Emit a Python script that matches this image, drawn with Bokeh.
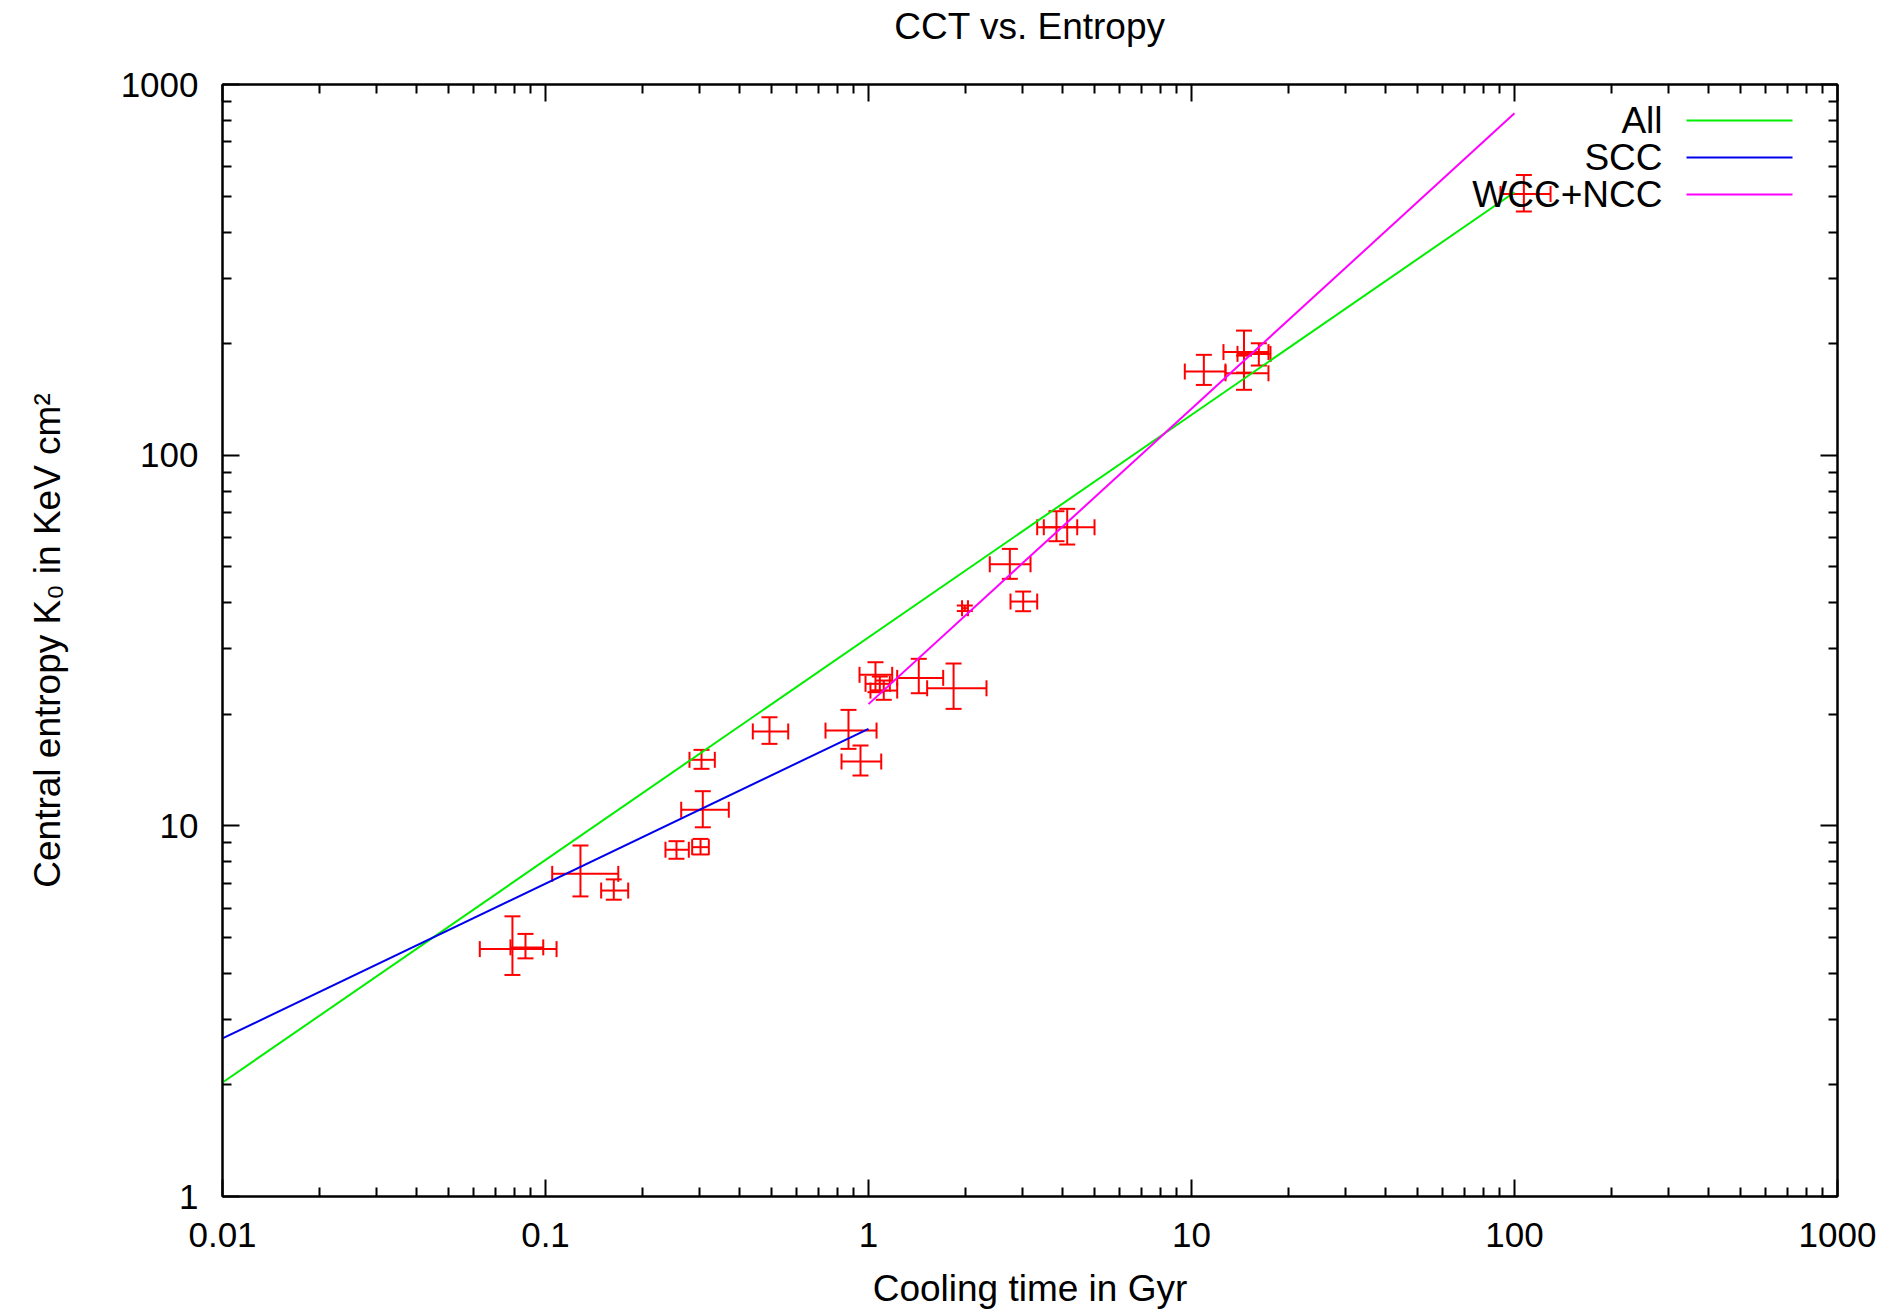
from bokeh.plotting import figure
from bokeh.models import (Range1d, Whisker, ColumnDataSource, FixedTicker,
                          CustomJSTickFormatter, LogAxis, Label, BoxAnnotation, TeeHead)
from bokeh.embed import file_html
from bokeh.resources import INLINE

# ---- data: cooling time (Gyr) and central entropy K0 (keV cm^2) with error-bar ends
t    = [0.0790, 0.0867, 0.1283, 0.1627, 0.2544, 0.302, 0.3069, 0.3041, 0.4937, 0.867,
        0.9445, 1.051, 1.084, 1.115, 1.431, 1.834, 1.987, 2.739, 3.012, 3.819,
        4.123, 10.92, 14.54, 14.54, 16.16, 106.9]
t_lo = [0.0626, 0.0779, 0.1049, 0.1487, 0.2352, 0.2845, 0.2631, 0.2791, 0.4384, 0.736,
        0.825, 0.938, 0.979, 1.014, 1.227, 1.519, 1.948, 2.374, 2.752, 3.329,
        3.489, 9.535, 12.56, 12.74, 13.88, 90.5]
t_hi = [0.1082, 0.0984, 0.1680, 0.1803, 0.2778, 0.3204, 0.3694, 0.3344, 0.5642, 1.059,
        1.095, 1.184, 1.164, 1.227, 1.703, 2.319, 2.032, 3.174, 3.329, 4.428,
        5.009, 12.74, 17.31, 17.31, 17.56, 129.3]
k    = [4.65, 4.70, 7.42, 6.69, 8.62, 8.76, 11.05, 15.07, 17.97, 18.07,
        14.91, 25.55, 24.16, 23.17, 25.07, 23.5, 38.64, 50.77, 40.28, 63.9,
        63.9, 168.1, 189.7, 166.3, 187.6, 506.9]
k_lo = [3.96, 4.39, 6.45, 6.32, 8.15, 8.37, 9.91, 14.25, 16.64, 16.13,
        13.67, 22.94, 23.17, 21.88, 22.79, 20.68, 37.97, 46.38, 37.93, 58.6,
        57.4, 154.7, 167.0, 150.1, 174.5, 454.0]
k_hi = [5.70, 5.11, 8.85, 7.17, 9.09, 9.22, 12.40, 16.03, 19.63, 20.55,
        16.47, 27.63, 25.28, 24.66, 28.22, 27.41, 39.3, 55.87, 42.86, 70.6,
        71.65, 186.5, 216.8, 185.6, 200.4, 570.3]

# fit lines (end points)
fit_names = ["All", "SCC", "WCC+NCC"]
fit_t = [[0.01, 100.0], [0.01, 1.0], [1.0, 100.0]]
fit_k = [[2.03, 512.0], [2.67, 18.27], [21.3, 836.0]]
fit_colors = ["#00ee00", "#0000ee", "#ff00ff"]

x_major = [0.01, 0.1, 1, 10, 100, 1000]
y_major = [1, 10, 100, 1000]

TITLE = "CCT vs. Entropy"
FONT = "Liberation Sans"

def minors(majors):
    out = []
    for m in majors[:-1]:
        out += [m * i for i in range(2, 10)]
    return out

p = figure(width=1900, height=1315, x_axis_type="log", y_axis_type="log",
           x_range=Range1d(0.01, 1000), y_range=Range1d(1, 1000),
           output_backend="svg", toolbar_location=None,
           min_border_left=222, min_border_right=63, min_border_top=84,
           min_border_bottom=119)
p.grid.visible = False
p.outline_line_color = "black"
p.outline_line_width = 2
p.background_fill_color = "white"
p.border_fill_color = "white"

fmt = CustomJSTickFormatter(code="return tick.toString();")

def style_axis(ax, majors, labels=True):
    ax.ticker = FixedTicker(ticks=majors, minor_ticks=minors(majors))
    ax.axis_line_color = "black"
    ax.axis_line_width = 2
    ax.major_tick_line_color = "black"
    ax.major_tick_line_width = 2
    ax.minor_tick_line_color = "black"
    ax.minor_tick_line_width = 2
    ax.major_tick_in = 17
    ax.major_tick_out = 0
    ax.minor_tick_in = 9
    ax.minor_tick_out = 0
    ax.formatter = fmt
    ax.major_label_text_font = FONT
    ax.axis_label_text_font = FONT
    ax.axis_label_text_font_style = "normal"
    ax.axis_label_text_font_size = "37px"
    ax.axis_label_text_color = "black"
    if labels:
        ax.major_label_text_font_size = "35px"
        ax.major_label_text_color = "black"
    else:
        ax.major_label_text_font_size = "1px"
        ax.major_label_text_color = None
        ax.major_label_standoff = 0

xa = p.xaxis[0]
ya = p.yaxis[0]
style_axis(xa, x_major)
style_axis(ya, y_major)
xa.axis_label = "Cooling time in Gyr"
ya.axis_label = "Central entropy K\u2080 in KeV cm\u00b2"
xa.major_label_standoff = 26
ya.major_label_standoff = 24
xa.axis_label_standoff = 18
ya.axis_label_standoff = 50

# mirrored axes (ticks only); the chart title sits in the top axis' label slot
top_ax = LogAxis()
right_ax = LogAxis()
style_axis(top_ax, x_major, labels=False)
style_axis(right_ax, y_major, labels=False)
top_ax.axis_label = TITLE
top_ax.axis_label_standoff = 38
p.add_layout(top_ax, "above")
p.add_layout(right_ax, "right")

# fit lines
for tt, kk, c in zip(fit_t, fit_k, fit_colors):
    p.line(tt, kk, line_color=c, line_width=2)

# error bars
src = ColumnDataSource(dict(t=t, t_lo=t_lo, t_hi=t_hi, k=k, k_lo=k_lo, k_hi=k_hi))
RED = "#ff0000"
def head():
    return TeeHead(size=16, line_color=RED, line_width=2)
wy = Whisker(source=src, base="t", lower="k_lo", upper="k_hi", dimension="height",
             line_color=RED, line_width=2, upper_head=head(), lower_head=head())
wx = Whisker(source=src, base="k", lower="t_lo", upper="t_hi", dimension="width",
             line_color=RED, line_width=2, upper_head=head(), lower_head=head())
p.add_layout(wy)
p.add_layout(wx)

# gnuplot-style key: text right-aligned, then line sample (screen units, frame-relative)
key_text_x = 1440
key_line_x0, key_line_x1 = 1464, 1570
key_y0, key_dy = 1076, 37
for i, (name, c) in enumerate(zip(fit_names, fit_colors)):
    yy = key_y0 - i * key_dy
    p.add_layout(Label(x=key_text_x, y=yy, x_units="screen", y_units="screen",
                       text=name, text_align="right", text_baseline="middle",
                       text_font=FONT, text_font_size="37px", text_color="black"))
    p.add_layout(BoxAnnotation(left=key_line_x0, right=key_line_x1,
                               bottom=yy - 1, top=yy + 1,
                               left_units="screen", right_units="screen",
                               bottom_units="screen", top_units="screen",
                               fill_color=c, fill_alpha=1.0, line_color=None))

open("out.html", "w").write(file_html(p, INLINE))
